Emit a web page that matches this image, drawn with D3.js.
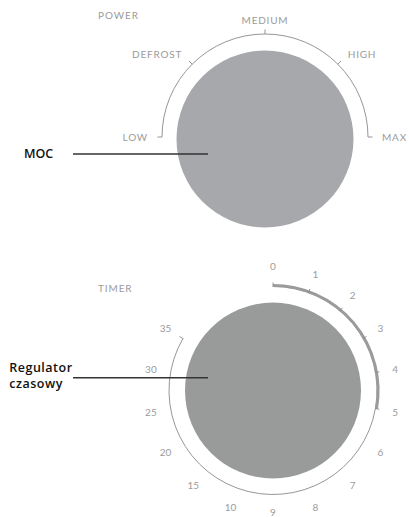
<!DOCTYPE html>
<html><head><meta charset="utf-8">
<script src="https://cdn.jsdelivr.net/npm/d3@7"></script>
<style>
html,body{margin:0;padding:0;background:#fff;}
svg{display:block;}
</style></head>
<body>
<script>
// ---- data ----
const powerLabels = ["LOW", "DEFROST", "MEDIUM", "HIGH", "MAX"];
const timerLabels = ["0","1","2","3","4","5","6","7","8","9","10","15","20","25","30","35"];
const timerActiveFrom = "0";
const timerActiveTo = "5";
const titles = ["POWER", "TIMER"];
const callouts = [["MOC"], ["Regulator", "czasowy"]];

const W = 409, H = 517;
const svg = d3.select("body").append("svg").attr("width", W).attr("height", H);

const gray = "#9b9b9b";
const font = "Lato, 'Open Sans', sans-serif";
const font2 = "'Open Sans', Lato, sans-serif";
const toRad = d => (d - 90) * Math.PI / 180;
const pt = (cx, cy, r, a) => [cx + r * Math.cos(toRad(a)), cy + r * Math.sin(toRad(a))];
function arcPath(cx, cy, r, a0, a1) {
  const p = d3.path();
  p.arc(cx, cy, r, toRad(a0), toRad(a1), false);
  return p.toString();
}

// ---- POWER dial ----
const P = {cx: 265, cy: 137, r: 103, kx: 265, ky: 139, kr: 88.5, lr: 117};
const powerAngle = d3.scalePoint().domain(powerLabels).range([-90, 90]);

svg.append("circle").attr("cx", P.kx).attr("cy", P.ky).attr("r", P.kr).attr("fill", "#a7a8ab");
svg.append("path").attr("d", arcPath(P.cx, P.cy, P.r, -90, 90))
  .attr("fill", "none").attr("stroke", "#8a8a8a").attr("stroke-width", 0.9);
powerLabels.forEach(l => {
  const a = powerAngle(l);
  const p0 = pt(P.cx, P.cy, P.r, a), p1 = pt(P.cx, P.cy, P.r + 4.5, a);
  svg.append("line").attr("x1", p0[0]).attr("y1", p0[1]).attr("x2", p1[0]).attr("y2", p1[1])
    .attr("stroke", "#8a8a8a").attr("stroke-width", 0.9);
  const q = pt(P.cx, P.cy, P.lr, a);
  svg.append("text").attr("x", q[0]).attr("y", q[1] + 3.6)
    .attr("text-anchor", a < 0 ? "end" : a > 0 ? "start" : "middle")
    .attr("font-family", font).attr("font-size", 10).attr("letter-spacing", 0.8)
    .attr("fill", gray).text(l);
});
svg.append("text").attr("x", 98).attr("y", 18.5).attr("font-family", font)
  .attr("font-size", 10).attr("letter-spacing", 0.9).attr("fill", gray).text(titles[0]);

// ---- TIMER dial ----
const T = {cx: 273, cy: 390.5, r: 104, kr: 88, lr: 124};
const timerAngle = d3.scalePoint().domain(timerLabels).range([0, 300]);

svg.append("circle").attr("cx", T.cx).attr("cy", T.cy).attr("r", T.kr).attr("fill", "#999b9b");
svg.append("path").attr("d", arcPath(T.cx, T.cy, T.r, timerAngle(timerActiveFrom), timerAngle(timerLabels[timerLabels.length - 1])))
  .attr("fill", "none").attr("stroke", "#8a8a8a").attr("stroke-width", 0.9);
svg.append("path").attr("d", arcPath(T.cx, T.cy, T.r + 1.2, timerAngle(timerActiveFrom), timerAngle(timerActiveTo)))
  .attr("fill", "none").attr("stroke", "#9a9c9c").attr("stroke-width", 2.8);
const i0 = timerLabels.indexOf(timerActiveFrom), i1 = timerLabels.indexOf(timerActiveTo);
timerLabels.forEach((l, i) => {
  const a = timerAngle(l);
  if ((i >= i0 && i <= i1) || i === timerLabels.length - 1) {
    const p0 = pt(T.cx, T.cy, T.r - 0.5, a), p1 = pt(T.cx, T.cy, T.r + 4, a);
    svg.append("line").attr("x1", p0[0]).attr("y1", p0[1]).attr("x2", p1[0]).attr("y2", p1[1])
      .attr("stroke", "#8a8a8a").attr("stroke-width", 0.9);
  }
  const q = pt(T.cx, T.cy, T.lr, a);
  svg.append("text").attr("x", q[0]).attr("y", Math.min(q[1] + 3.6, 516)).attr("text-anchor", "middle")
    .attr("font-family", font).attr("font-size", 10).attr("fill", gray).text(l);
});
svg.append("text").attr("x", 98).attr("y", 291.5).attr("font-family", font)
  .attr("font-size", 10).attr("letter-spacing", 0.9).attr("fill", gray).text(titles[1]);

// ---- callouts ----
const calloutY = [154, 377.7];
callouts.forEach((lines, k) => {
  svg.append("line").attr("x1", 73).attr("x2", 208).attr("y1", calloutY[k]).attr("y2", calloutY[k])
    .attr("stroke", "#333").attr("stroke-width", 1.4);
  const t = svg.append("text").attr("font-family", font2).attr("font-size", 12.5)
    .attr("font-weight", 600).attr("fill", "#111");
  if (lines.length === 1) {
    t.attr("x", 24).attr("y", 158.3).text(lines[0]);
  } else {
    t.attr("letter-spacing", 0.5);
    lines.forEach((s, j) => t.append("tspan").attr("x", 9.3).attr("y", 372.3 + j * 15.5).text(s));
  }
});
</script>
</body></html>
